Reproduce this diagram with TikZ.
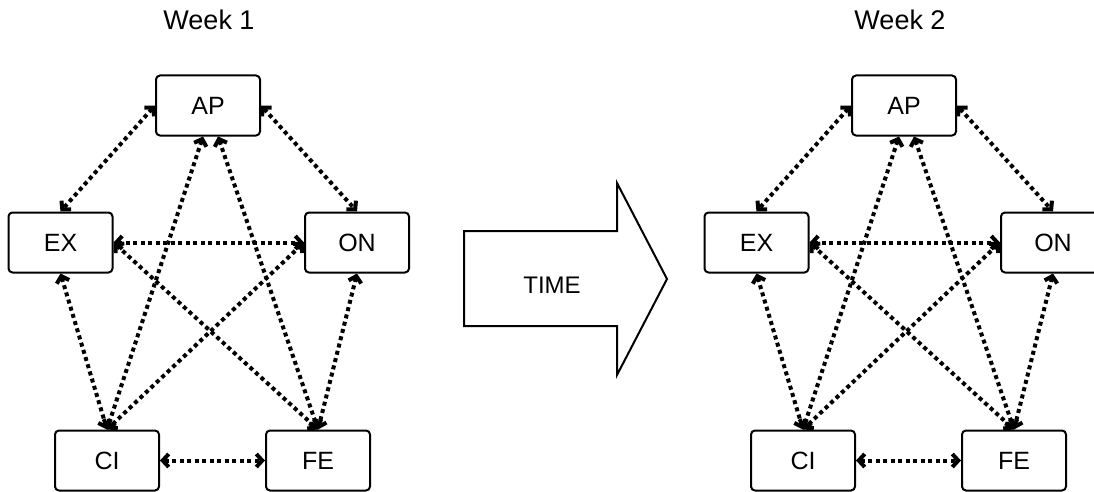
\documentclass[tikz,border=0pt]{standalone}
\usepackage{fontspec}
\setmainfont{Liberation Sans}
\usetikzlibrary{arrows.meta}
\tikzset{
    box/.style={draw, line width=2pt, rounded corners=4pt, minimum width=104pt, minimum height=60pt, font=\fontsize{25}{30}\selectfont},
    link/.style={line width=4pt, dash pattern=on 4pt off 3.5pt, {Straight Barb[length=6pt,width=13pt]}-{Straight Barb[length=6pt,width=13pt]}},
    week/.style={font=\fontsize{27}{32}\selectfont},
}
\begin{document}
\begin{tikzpicture}[x=1pt, y=-1pt]
        \useasboundingbox (0,0) rectangle (1094,492);
        \clip (0,0) rectangle (1094,492);
        \node[week] (w1) at (209, 20) {Week 1};
        \node[week] (w2) at (900, 20) {Week 2};
        \node[box] (AP1) at (208, 105.5) {AP};
        \node[box] (EX1) at (60.5, 242.5) {EX};
        \node[box] (ON1) at (357, 242.5) {ON};
        \node[box] (CI1) at (107, 460.5) {CI};
        \node[box] (FE1) at (318, 460.5) {FE};
        \node[box] (AP2) at (904, 105.5) {AP};
        \node[box] (EX2) at (756.5, 242.5) {EX};
        \node[box] (ON2) at (1053, 242.5) {ON};
        \node[box] (CI2) at (803, 460.5) {CI};
        \node[box] (FE2) at (1014, 460.5) {FE};
        \draw[line width=2pt] (464,231) -- (617,231) -- (617,183) -- (667,279) -- (617,375) -- (617,326) -- (464,326) -- cycle;
        \node[font=\fontsize{24}{29}\selectfont] (time) at (552, 285) {TIME};
        \draw[link] (AP1.west) -- (EX1.north);
        \draw[link] (AP1.east) -- (ON1.north);
        \draw[link] (EX1.east) -- (ON1.west);
        \draw[link] (EX1.south) -- (CI1.north);
        \draw[link] (ON1.south) -- (FE1.north);
        \draw[link] (CI1.east) -- (FE1.west);
        \draw[link] ([xshift=-5pt]AP1.south) -- (CI1.north);
        \draw[link] ([xshift=10pt]AP1.south) -- (FE1.north);
        \draw[link] (EX1.east) -- (FE1.north);
        \draw[link] (ON1.west) -- (CI1.north);
        \draw[link] (AP2.west) -- (EX2.north);
        \draw[link] (AP2.east) -- (ON2.north);
        \draw[link] (EX2.east) -- (ON2.west);
        \draw[link] (EX2.south) -- (CI2.north);
        \draw[link] (ON2.south) -- (FE2.north);
        \draw[link] (CI2.east) -- (FE2.west);
        \draw[link] ([xshift=-5pt]AP2.south) -- (CI2.north);
        \draw[link] ([xshift=10pt]AP2.south) -- (FE2.north);
        \draw[link] (EX2.east) -- (FE2.north);
        \draw[link] (ON2.west) -- (CI2.north);
\end{tikzpicture}
\end{document}
